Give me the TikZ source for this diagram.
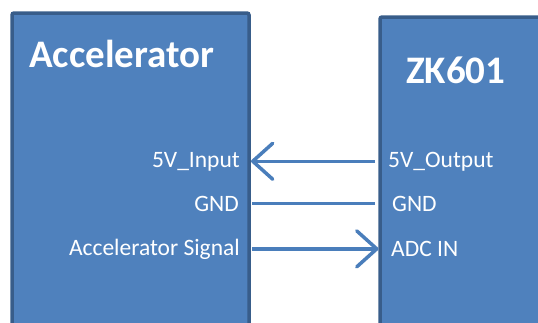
\documentclass[tikz,border=0pt]{standalone}
\usepackage{fontspec}
\setmainfont{Carlito}
\usetikzlibrary{arrows.meta,positioning}
\definecolor{bleuFond}{RGB}{79,129,189}
\definecolor{bleuBord}{RGB}{56,93,138}
\definecolor{bleuFleche}{RGB}{74,126,187}

\begin{document}
\begin{tikzpicture}[x=1pt,y=-1pt,
  bloc/.style={rectangle,rounded corners=2pt,draw=bleuBord,fill=bleuFond,line width=3.5pt,
               outer sep=0pt,inner sep=0pt,anchor=north west},
  titre/.style={text=white,font=\fontsize{39}{46}\selectfont\bfseries,inner sep=0pt,anchor=base west},
  broche/.style={text=white,font=\fontsize{23.5}{28}\selectfont,inner sep=0pt},
  liaison/.style={bleuFleche,line width=3.5pt}]

  \clip (0,0) rectangle (538,322);

  \node[bloc,minimum width=237pt,minimum height=330pt] (ACC) at (12,13) {};
  \node[bloc,minimum width=200pt,minimum height=330pt] (ZK) at (380,17) {};

  \node[titre] (ACCt) at (29,67) {Accelerator};
  \node[titre] (ZKt) at (406,83) {ZK601};

  \node[broche,anchor=base east] (IN5) at (240,167) {5V\_Input};
  \node[broche,anchor=base east] (GNDa) at (239,211) {GND};
  \node[broche,anchor=base east] (SIG) at (240,255) {Accelerator Signal};

  \node[broche,anchor=base west] (OUT5) at (388,167) {5V\_Output};
  \node[broche,anchor=base west] (GNDb) at (392,211) {GND};
  \node[broche,anchor=base west] (ADC) at (391,256) {ADC IN};

  \draw[liaison,-{Straight Barb[length=20pt,width=36pt,round]},shorten <=5pt,shorten >=2pt]
    (ZK.west |- OUT5) -- (ACC.east |- OUT5);
  \draw[liaison,shorten <=3pt,shorten >=5pt] (ACC.east |- GNDa) -- (ZK.west |- GNDa);
  \draw[liaison,-{Straight Barb[length=20pt,width=36pt,round]},shorten <=3pt,shorten >=1.5pt]
    (ACC.east |- SIG) -- (ZK.west |- SIG);
\end{tikzpicture}
\end{document}
